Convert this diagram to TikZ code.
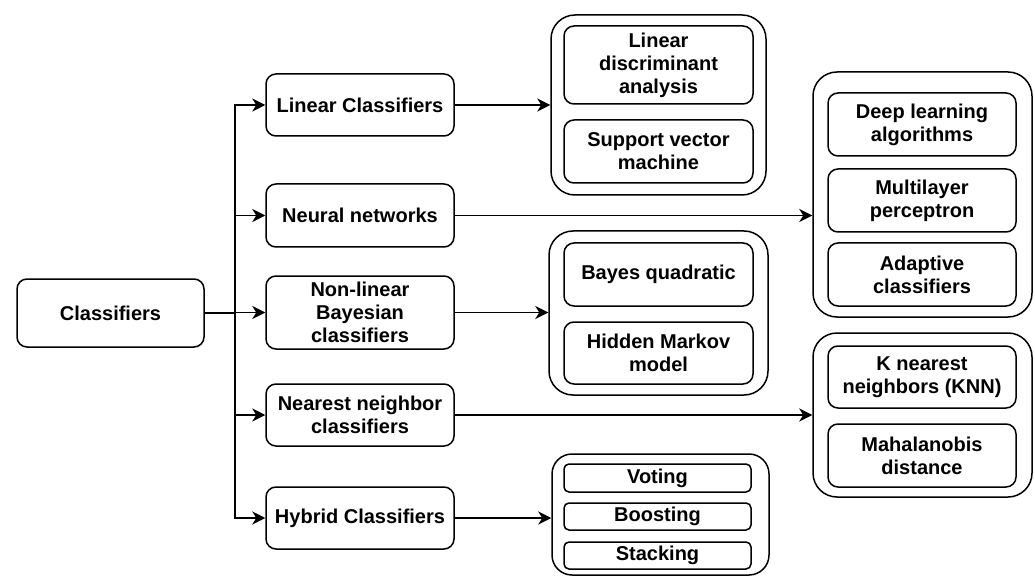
\documentclass[tikz,border=0pt]{standalone}
\usepackage{fontspec}
\setmainfont{Liberation Sans}
\usepackage{tikz}
\usetikzlibrary{arrows.meta,positioning}
\tikzset{
  cat/.style={draw, line width=1.5pt, rounded corners=10pt, fill=white,
              minimum width=188pt, minimum height=62pt, inner sep=0pt,
              align=center, font=\fontsize{20}{23}\selectfont\bfseries},
  grp/.style={draw, line width=1.5pt, rounded corners=24pt, minimum width=217pt},
  item/.style={cat, minimum width=189pt},
  arr/.style={-{Stealth[length=13pt, width=13pt, inset=4pt]}, line width=1.5pt},
  ln/.style={line width=1.5pt},
}

\begin{document}
\begin{tikzpicture}[x=1pt, y=-1pt]
  \useasboundingbox (0,0) rectangle (1035,577);

  % root and first level
  \node[cat, minimum width=187pt, minimum height=68pt] (root) at (110.5,313) {Classifiers};
  \node[cat] (lin) at (360,105) {Linear Classifiers};
  \node[cat, minimum height=63pt] (neu) at (360,215.5) {Neural networks};
  \node[cat, minimum height=73pt] (bay) at (360,312.5) {Non-linear\\Bayesian\\classifiers};
  \node[cat] (nea) at (360,415) {Nearest neighbor\\classifiers};
  \node[cat] (hyb) at (360,518) {Hybrid Classifiers};

  \coordinate (split) at (235,313);
  \draw[ln] (root.east) -- (split);
  \foreach \n in {lin,neu,bay,nea,hyb}
    \draw[arr] (split) |- (\n.west);

  % linear group
  \node[grp, minimum width=215pt, minimum height=180pt] (glin) at (658.5,105) {};
  \node[item, minimum height=78pt] (lda) at (658.5,65) {Linear\\discriminant\\analysis};
  \node[item, minimum height=63pt] (svm) at (658.5,151.5) {Support vector\\machine};

  % neural group
  \node[grp, minimum width=219pt, minimum height=245pt] (gneu) at (922.5,194.5) {};
  \node[item, minimum width=188pt, minimum height=63pt] (dla) at (922,124.5) {Deep learning\\algorithms};
  \node[item, minimum width=188pt, minimum height=63pt] (mlp) at (922,200.5) {Multilayer\\perceptron};
  \node[item, minimum width=188pt, minimum height=63pt] (ada) at (922,274.5) {Adaptive\\classifiers};

  % bayesian group
  \node[grp, minimum width=219pt, minimum height=164pt] (gbay) at (658.5,313) {};
  \node[item, minimum height=63pt] (bqu) at (658.5,274.5) {Bayes quadratic};
  \node[item] (hmm) at (658.5,353) {Hidden Markov\\model};

  % nearest neighbor group
  \node[grp, minimum width=219pt, minimum height=164pt] (gnea) at (922.5,415) {};
  \node[item, minimum width=188pt] (knn) at (922,377) {K nearest\\neighbors (KNN)};
  \node[item, minimum width=188pt, minimum height=63pt] (mah) at (922,455.5) {Mahalanobis\\distance};

  % hybrid group
  \node[grp, rounded corners=20pt, minimum width=217pt, minimum height=121pt] (ghyb) at (660.5,514.5) {};
  \node[item, rounded corners=5pt, minimum width=187pt, minimum height=28pt] (vot) at (657.5,478) {Voting};
  \node[item, rounded corners=5pt, minimum width=187pt, minimum height=27pt] (boo) at (657.5,516.5) {Boosting};
  \node[item, rounded corners=5pt, minimum width=187pt, minimum height=27pt] (sta) at (657.5,555.5) {Stacking};

  \draw[arr] (lin.east) -- (lin.east -| glin.west);
  \draw[arr] (neu.east) -- (neu.east -| gneu.west);
  \draw[arr] (bay.east) -- (bay.east -| gbay.west);
  \draw[arr] (nea.east) -- (nea.east -| gnea.west);
  \draw[arr] (hyb.east) -- (hyb.east -| ghyb.west);
\end{tikzpicture}
\end{document}
